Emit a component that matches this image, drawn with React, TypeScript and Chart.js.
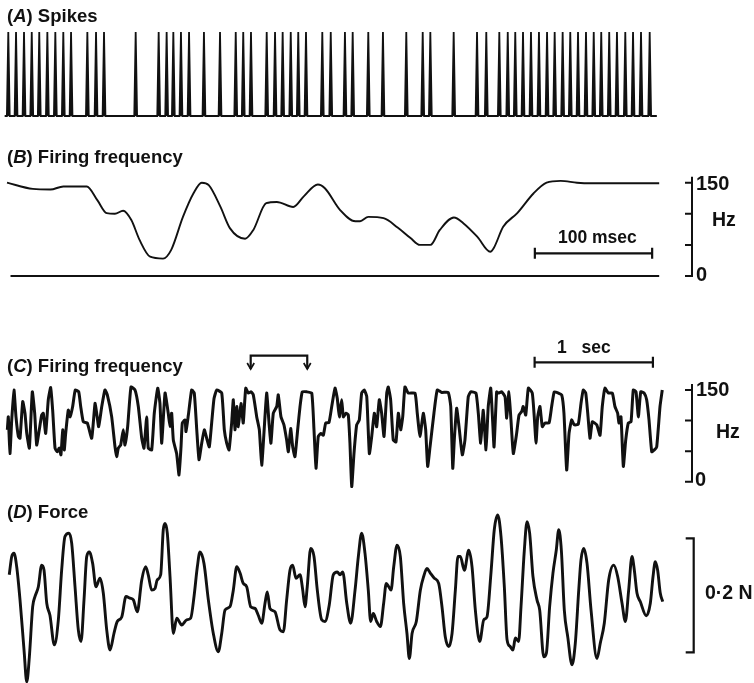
import React, { useEffect, useRef } from 'react';
import { Chart, registerables } from 'chart.js';

Chart.register(...registerables);

// ---------------- data ----------------
// (A) spike times, ms
const spikeTimesMs = [1.1, 7.7, 14.5, 21.1, 27.5, 34.4, 41.2, 48.0, 54.6, 68.5, 75.9, 82.7, 109.7, 129.3, 136.1, 141.8, 148.3, 155.2, 167.9, 181.6, 195.0, 201.4, 208.0, 221.4, 228.5, 235.0, 241.9, 248.3, 254.9, 268.8, 276.0, 288.1, 294.7, 308.0, 320.5, 340.4, 354.4, 360.9, 380.8, 400.7, 408.6, 419.7, 426.9, 433.3, 439.9, 446.7, 453.5, 460.4, 466.9, 473.7, 480.2, 486.8, 493.6, 500.2, 506.6, 513.4, 520.0, 527.1, 533.7, 540.5, 547.9];
const spikeTraceSpanMs = [-2, 554];
const spikeHalfWidthMs = 1.2;

// (B) instantaneous firing frequency over the same 550 ms
const bTimeMs = [0, 22, 37, 48, 68, 77, 85, 92, 99, 106, 113, 122, 133, 140, 150, 159, 166, 172, 182, 190, 203, 210, 221, 230, 244, 253, 265, 271, 284, 297, 301, 308, 321, 333, 344, 352, 361, 369, 381, 389, 401, 412, 415, 423, 435, 449, 460, 472, 486, 497, 556];
const bRateHz = [150, 140, 139, 144, 144, 122, 101, 100, 105, 90, 58, 31, 28, 42, 95, 133, 150, 146, 111, 77, 60, 74, 117, 119, 111, 128, 147, 141, 106, 88, 88, 95, 93, 78, 61, 50, 50, 74, 94, 85, 63, 39, 45, 79, 101, 133, 150, 153, 150, 149, 149];
const bZeroLineMs = [3, 556];

// (C) firing frequency over ~5.5 s
const cTimeMs = [3, 11, 25, 40, 59, 76, 96, 110, 133, 152, 167, 189, 214, 234, 251, 273, 293, 307, 327, 349, 369, 386, 406, 425, 442, 456, 471, 484, 496, 518, 533, 555, 577, 606, 623, 645, 679, 716, 744, 758, 775, 801, 828, 848, 885, 913, 927, 941, 961, 983, 997, 1020, 1048, 1082, 1110, 1139, 1158, 1181, 1194, 1223, 1245, 1274, 1293, 1308, 1336, 1363, 1378, 1392, 1406, 1434, 1454, 1471, 1482, 1505, 1513, 1533, 1561, 1583, 1604, 1623, 1646, 1668, 1688, 1710, 1730, 1750, 1773, 1815, 1837, 1857, 1877, 1899, 1913, 1927, 1942, 1955, 1978, 1997, 2018, 2040, 2063, 2082, 2111, 2133, 2153, 2172, 2195, 2215, 2231, 2251, 2280, 2293, 2316, 2341, 2364, 2378, 2398, 2415, 2434, 2457, 2477, 2496, 2533, 2576, 2595, 2612, 2631, 2654, 2674, 2694, 2722, 2745, 2773, 2792, 2809, 2829, 2843, 2866, 2885, 2899, 2914, 2933, 2956, 2978, 2998, 3020, 3041, 3063, 3083, 3105, 3125, 3147, 3167, 3187, 3210, 3223, 3243, 3265, 3288, 3308, 3328, 3345, 3364, 3392, 3449, 3468, 3491, 3519, 3539, 3556, 3576, 3609, 3637, 3675, 3730, 3751, 3768, 3781, 3801, 3821, 3849, 3871, 3899, 3920, 3964, 3984, 4004, 4026, 4049, 4068, 4089, 4106, 4117, 4139, 4153, 4182, 4210, 4224, 4243, 4260, 4280, 4308, 4328, 4351, 4364, 4385, 4407, 4440, 4457, 4472, 4486, 4505, 4525, 4548, 4582, 4604, 4626, 4660, 4689, 4708, 4731, 4751, 4773, 4795, 4829, 4852, 4871, 4892, 4909, 4928, 4948, 4985, 5013, 5032, 5055, 5083, 5117, 5139, 5162, 5173, 5190, 5210, 5230, 5252, 5275, 5294, 5317, 5337, 5357, 5386, 5407, 5427, 5450, 5472, 5492, 5520, 5539];
const cRateHz = [85, 106, 46, 101, 150, 106, 74, 71, 131, 112, 79, 55, 147, 112, 60, 85, 109, 112, 79, 134, 154, 117, 55, 49, 55, 44, 85, 52, 79, 117, 106, 123, 150, 147, 123, 98, 96, 71, 128, 112, 90, 123, 150, 142, 106, 57, 41, 55, 60, 85, 60, 90, 155, 150, 123, 71, 55, 106, 55, 52, 112, 153, 128, 63, 145, 112, 90, 112, 68, 46, 11, 57, 96, 101, 82, 109, 150, 145, 85, 36, 63, 85, 71, 57, 96, 136, 150, 145, 85, 63, 52, 96, 134, 85, 123, 90, 128, 96, 153, 145, 147, 142, 106, 85, 27, 79, 145, 96, 63, 112, 123, 142, 106, 93, 68, 49, 87, 57, 41, 85, 123, 147, 147, 145, 85, 22, 74, 79, 76, 96, 97, 123, 153, 136, 106, 134, 106, 112, 109, 63, -8, 46, 93, 101, 145, 150, 139, 46, 74, 112, 90, 134, 112, 74, 145, 155, 134, 68, 65, 112, 85, 106, 155, 145, 145, 112, 74, 112, 85, 25, 57, 112, 150, 146, 146, 123, 22, 68, 120, 90, 44, 68, 139, 147, 145, 112, 63, 117, 52, 123, 153, 96, 57, 147, 145, 147, 139, 104, 147, 101, 46, 79, 109, 115, 123, 109, 153, 145, 106, 63, 106, 123, 90, 96, 96, 123, 147, 145, 142, 112, 19, 79, 101, 93, 94, 128, 150, 145, 112, 71, 98, 93, 76, 123, 153, 145, 145, 123, 112, 96, 106, 25, 68, 96, 98, 150, 147, 106, 147, 145, 134, 101, 49, 52, 57, 123, 150];

// (D) force, mN relative to mean
const dTimeMs = [19, 40, 59, 82, 110, 144, 167, 189, 217, 237, 265, 293, 313, 336, 363, 400, 434, 462, 490, 524, 547, 575, 603, 626, 651, 674, 696, 724, 752, 786, 814, 843, 871, 904, 932, 970, 1006, 1040, 1068, 1101, 1139, 1172, 1194, 1223, 1251, 1270, 1299, 1321, 1336, 1355, 1378, 1406, 1435, 1477, 1519, 1553, 1581, 1609, 1631, 1665, 1702, 1744, 1786, 1815, 1843, 1885, 1913, 1942, 1970, 1997, 2026, 2060, 2096, 2124, 2153, 2181, 2200, 2223, 2265, 2308, 2336, 2364, 2392, 2415, 2443, 2477, 2500, 2519, 2538, 2567, 2595, 2623, 2660, 2688, 2724, 2758, 2792, 2815, 2838, 2872, 2905, 2942, 2970, 2998, 3026, 3054, 3074, 3096, 3125, 3156, 3184, 3206, 3227, 3246, 3269, 3297, 3325, 3353, 3381, 3401, 3424, 3460, 3494, 3522, 3550, 3578, 3612, 3649, 3677, 3705, 3734, 3762, 3790, 3812, 3832, 3866, 3903, 3931, 3959, 3996, 4030, 4057, 4091, 4119, 4148, 4176, 4204, 4227, 4254, 4277, 4297, 4325, 4345, 4373, 4396, 4418, 4446, 4480, 4503, 4537, 4559, 4587, 4615, 4643, 4664, 4686, 4711, 4740, 4776, 4804, 4833, 4852, 4875, 4903, 4937, 4987, 5015, 5049, 5086, 5129, 5162, 5199, 5227, 5255, 5283, 5303, 5325, 5353, 5404, 5438, 5461, 5480, 5500, 5522, 5543];
const dForceMN = [36, 68, 74, 50, -8, -96, -152, -108, -20, -2, 15, 53, 44, -14, -35, -87, -43, 44, 103, 109, 91, 15, -61, -81, -8, 68, 76, 56, 15, 30, 4, -61, -96, -67, -46, -38, -2, -5, -8, -29, 27, 50, 36, 9, 12, 27, 36, 115, 126, 109, 33, -67, -40, -52, -43, -40, -2, 50, 76, 56, -8, -67, -99, -67, -26, -20, 9, 50, 39, 21, 15, -20, -23, -35, -49, -14, 6, -23, -29, -61, -64, -8, 44, 53, 30, 36, 9, -20, 15, 82, 68, 9, -43, -46, -17, 36, 41, 36, 41, -14, -49, 9, 68, 109, 74, 9, -46, -32, -46, -55, -14, 21, 15, 9, 50, 88, 68, -14, -67, -111, -67, -46, 9, 33, 47, 39, 30, 21, -20, -73, -90, -67, 9, 68, 68, 44, 79, 50, -26, -81, -43, -38, 39, 115, 141, 103, 15, -78, -90, -96, -75, -81, -20, 79, 129, 109, 33, -8, -26, -108, -102, -20, 39, 79, 115, 79, -26, -73, -122, -84, 9, 62, 82, 56, -26, -111, -84, -49, 27, 53, 33, -14, -46, 9, 68, 44, 4, -11, -36, -14, 33, 59, 44, 4, -11];

// calibration marks
const rateTickValuesHz = [0, 50, 100, 150];
const forceBracketMN = [-100, 100];
const msecBarMs = [450, 550];
const secBarMs = [4460, 5460];
const markedSegmentMs = [2060, 2538];

// ---------------- layout / style ----------------
const W = 754;
const INK = '#111111';
const FONT = '"Liberation Sans", Arial, Helvetica, sans-serif';

function fitX(v1: number, p1: number, v2: number, p2: number, size: number) {
  const k = (v2 - v1) / (p2 - p1);
  const min = v1 - p1 * k;
  return { min, max: min + size * k };
}
function fitY(v1: number, p1: number, v2: number, p2: number, size: number) {
  const k = (v1 - v2) / (p2 - p1);
  const max = v1 + p1 * k;
  return { min: max - size * k, max };
}

const PANEL = {
  A: { top: 0, h: 130 },
  B: { top: 135, h: 155 },
  C: { top: 330, h: 170 },
  D: { top: 500, h: 183 },
};

const xShort = fitX(0, 7, 100, 124.3, W);
const xLong = fitX(0, 7, 1000, 125.3, W);
const yA = fitY(1, 32, 0, 116, PANEL.A.h);
const yB = fitY(150, 47.7, 0, 141, PANEL.B.h);
const yC = fitY(150, 60, 0, 151.7, PANEL.C.h);
const yD = fitY(100, 38.3, -100, 152.3, PANEL.D.h);

function baseOptions(xr: { min: number; max: number }, yr: { min: number; max: number }): any {
  return {
    responsive: false,
    animation: false,
    events: [],
    layout: { padding: 0 },
    plugins: { legend: { display: false }, tooltip: { enabled: false }, title: { display: false } },
    scales: {
      x: { type: 'linear', display: false, min: xr.min, max: xr.max, bounds: 'data' },
      y: { type: 'linear', display: false, min: yr.min, max: yr.max, bounds: 'data' },
    },
    elements: { point: { radius: 0 } },
  };
}

function stroke(ctx: CanvasRenderingContext2D, w: number, draw: () => void) {
  ctx.save();
  ctx.strokeStyle = INK;
  ctx.lineWidth = w;
  ctx.lineCap = 'butt';
  ctx.lineJoin = 'miter';
  ctx.beginPath();
  draw();
  ctx.stroke();
  ctx.restore();
}

const rateBracketPlugin = (xPx: number) => ({
  id: 'rateBracket',
  afterDatasetsDraw(chart: any) {
    const ctx = chart.ctx;
    const y = chart.scales.y;
    const top = y.getPixelForValue(rateTickValuesHz[rateTickValuesHz.length - 1]) - 6;
    const bottom = y.getPixelForValue(rateTickValuesHz[0]);
    stroke(ctx, 2, () => {
      ctx.moveTo(xPx, top);
      ctx.lineTo(xPx, bottom + 1);
      rateTickValuesHz.forEach((v) => {
        const py = y.getPixelForValue(v);
        ctx.moveTo(xPx - 7, py);
        ctx.lineTo(xPx + 1, py);
      });
    });
  },
});

const scaleBarPlugin = (range: number[], yPx: number) => ({
  id: 'scaleBar',
  afterDatasetsDraw(chart: any) {
    const ctx = chart.ctx;
    const x = chart.scales.x;
    const x0 = x.getPixelForValue(range[0]);
    const x1 = x.getPixelForValue(range[1]);
    stroke(ctx, 2.2, () => {
      ctx.moveTo(x0, yPx);
      ctx.lineTo(x1, yPx);
      ctx.moveTo(x0, yPx - 5.5);
      ctx.lineTo(x0, yPx + 5.5);
      ctx.moveTo(x1, yPx - 5.5);
      ctx.lineTo(x1, yPx + 5.5);
    });
  },
});

const segmentMarkPlugin = {
  id: 'segmentMark',
  afterDatasetsDraw(chart: any) {
    const ctx = chart.ctx;
    const x = chart.scales.x;
    const a = x.getPixelForValue(markedSegmentMs[0]);
    const b = x.getPixelForValue(markedSegmentMs[1]);
    const yTop = 25.7;
    const yTip = 39;
    stroke(ctx, 2.2, () => {
      ctx.moveTo(a, yTip);
      ctx.lineTo(a, yTop);
      ctx.lineTo(b, yTop);
      ctx.lineTo(b, yTip);
    });
    [a, b].forEach((p) => {
      stroke(ctx, 1.7, () => {
        ctx.moveTo(p - 3.5, yTip - 6);
        ctx.lineTo(p, yTip);
        ctx.lineTo(p + 3.5, yTip - 6);
      });
    });
  },
};

const forceBracketPlugin = (xPx: number) => ({
  id: 'forceBracket',
  afterDatasetsDraw(chart: any) {
    const ctx = chart.ctx;
    const y = chart.scales.y;
    const top = y.getPixelForValue(forceBracketMN[1]);
    const bottom = y.getPixelForValue(forceBracketMN[0]);
    stroke(ctx, 2.2, () => {
      ctx.moveTo(xPx - 8, top);
      ctx.lineTo(xPx, top);
      ctx.lineTo(xPx, bottom);
      ctx.lineTo(xPx - 8, bottom);
    });
  },
});

function spikeTrace() {
  const pts: { x: number; y: number }[] = [{ x: spikeTraceSpanMs[0], y: 0 }];
  spikeTimesMs.forEach((t) => {
    pts.push({ x: t - spikeHalfWidthMs, y: 0 }, { x: t, y: 1 }, { x: t + spikeHalfWidthMs, y: 0 });
  });
  pts.push({ x: spikeTraceSpanMs[1], y: 0 });
  return pts;
}

const zip = (xs: number[], ys: number[]) => xs.map((x, i) => ({ x, y: ys[i] }));

function Txt({ x, y, size, children }: { x: number; y: number; size: number; children: any }) {
  return (
    <div
      style={{
        position: 'absolute',
        left: x,
        top: y,
        transform: 'translateY(-50%)',
        fontSize: size,
        fontWeight: 700,
        lineHeight: 1,
        whiteSpace: 'nowrap',
        color: INK,
        fontFamily: FONT,
      }}
    >
      {children}
    </div>
  );
}

export default function App() {
  const refA = useRef<HTMLCanvasElement>(null);
  const refB = useRef<HTMLCanvasElement>(null);
  const refC = useRef<HTMLCanvasElement>(null);
  const refD = useRef<HTMLCanvasElement>(null);

  useEffect(() => {
    const charts: Chart[] = [];

    charts.push(
      new Chart(refA.current as HTMLCanvasElement, {
        type: 'line',
        data: {
          datasets: [
            {
              data: spikeTrace(),
              borderColor: INK,
              backgroundColor: INK,
              fill: 'origin',
              borderWidth: 1.8,
              tension: 0,
              pointRadius: 0,
              borderJoinStyle: 'miter',
            } as any,
          ],
        },
        options: baseOptions(xShort, yA),
      })
    );

    charts.push(
      new Chart(refB.current as HTMLCanvasElement, {
        type: 'line',
        data: {
          datasets: [
            { data: zip(bTimeMs, bRateHz), borderColor: INK, borderWidth: 1.9, cubicInterpolationMode: 'monotone', pointRadius: 0 } as any,
            { data: bZeroLineMs.map((x) => ({ x, y: 0 })), borderColor: INK, borderWidth: 2, pointRadius: 0 } as any,
          ],
        },
        options: baseOptions(xShort, yB),
        plugins: [rateBracketPlugin(692), scaleBarPlugin(msecBarMs, 118.3)],
      })
    );

    charts.push(
      new Chart(refC.current as HTMLCanvasElement, {
        type: 'line',
        data: {
          datasets: [
            { data: zip(cTimeMs, cRateHz), borderColor: INK, borderWidth: 3, tension: 0.15, pointRadius: 0, borderJoinStyle: 'round' } as any,
          ],
        },
        options: baseOptions(xLong, yC),
        plugins: [rateBracketPlugin(692), scaleBarPlugin(secBarMs, 32.3), segmentMarkPlugin],
      })
    );

    charts.push(
      new Chart(refD.current as HTMLCanvasElement, {
        type: 'line',
        data: {
          datasets: [
            { data: zip(dTimeMs, dForceMN), borderColor: INK, borderWidth: 2.9, cubicInterpolationMode: 'monotone', pointRadius: 0, borderJoinStyle: 'round' } as any,
          ],
        },
        options: baseOptions(xLong, yD),
        plugins: [forceBracketPlugin(693.7)],
      })
    );

    return () => charts.forEach((c) => c.destroy());
  }, []);

  const cv = (ref: any, p: { top: number; h: number }) => (
    <canvas ref={ref} width={W} height={p.h} style={{ position: 'absolute', left: 0, top: p.top, width: W, height: p.h, display: 'block' }} />
  );

  return (
    <div style={{ position: 'absolute', left: 0, top: 0, width: W, height: 683, background: '#fff', overflow: 'hidden', fontFamily: FONT }}>
      {cv(refA, PANEL.A)}
      {cv(refB, PANEL.B)}
      {cv(refC, PANEL.C)}
      {cv(refD, PANEL.D)}

      <Txt x={7} y={15.5} size={18.5}>(<i>A</i>) Spikes</Txt>
      <Txt x={7} y={157} size={18.5}>(<i>B</i>) Firing frequency</Txt>
      <Txt x={7} y={366} size={18.5}>(<i>C</i>) Firing frequency</Txt>
      <Txt x={7} y={511.7} size={18.5}>(<i>D</i>) Force</Txt>

      <Txt x={696} y={182.7} size={20}>150</Txt>
      <Txt x={712} y={220} size={19.5}>Hz</Txt>
      <Txt x={696} y={274} size={20}>0</Txt>
      <Txt x={558} y={238.3} size={17.5}>100 msec</Txt>

      <Txt x={696} y={388.5} size={20}>150</Txt>
      <Txt x={716} y={431.7} size={19.5}>Hz</Txt>
      <Txt x={695} y={479} size={20}>0</Txt>
      <Txt x={557} y={348.3} size={17.5}>1<span style={{ marginLeft: 10 }}> sec</span></Txt>

      <Txt x={705} y={593.3} size={19.5}>0·2 N</Txt>
    </div>
  );
}
